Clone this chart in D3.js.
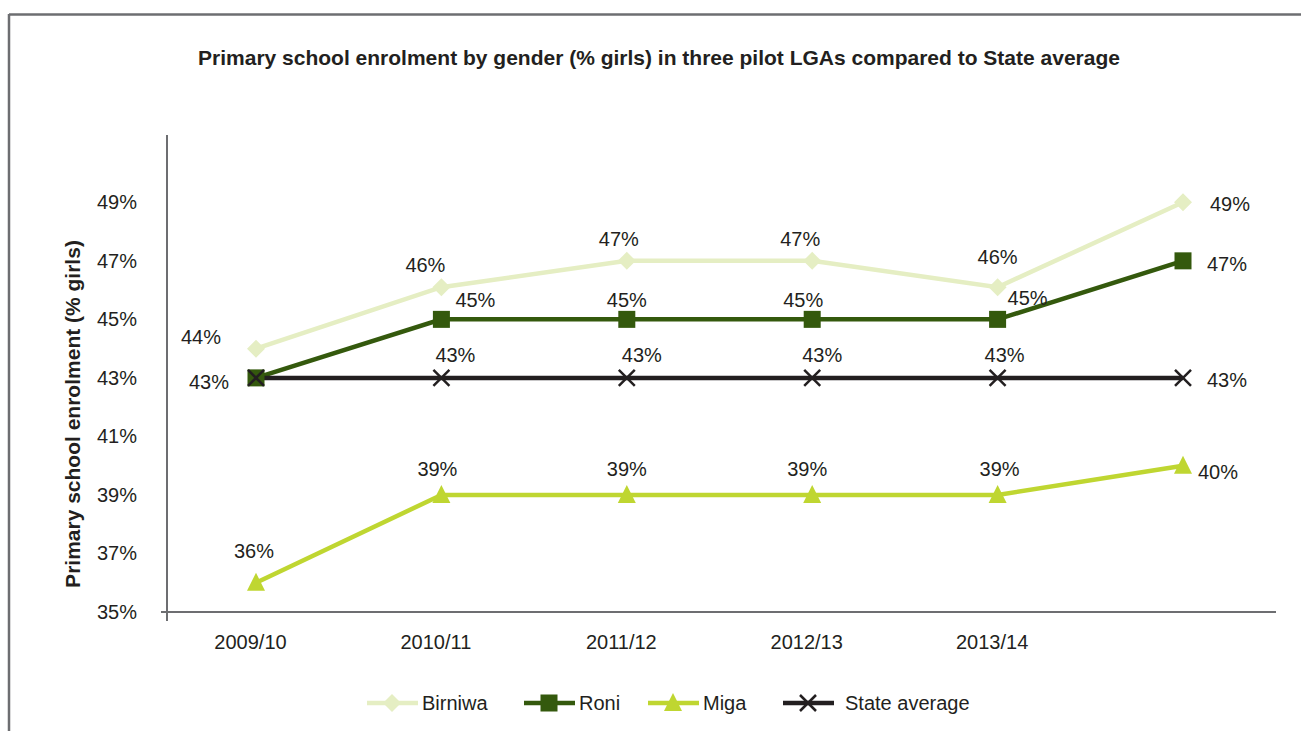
<!DOCTYPE html>
<html>
<head>
<meta charset="utf-8">
<script src="https://cdn.jsdelivr.net/npm/d3@7"></script>
<style>
  body { margin: 0; background: #fff; }
  svg { font-family: "Liberation Sans", Arial, Helvetica, sans-serif; }
</style>
</head>
<body>
<svg id="chart" width="1301" height="731"></svg>
<script>
// data
const categories = ['2009/10', '2010/11', '2011/12', '2012/13', '2013/14', ''];
const birniwa = [44, 46.1, 47, 47, 46.1, 49];
const roni = [43, 45, 45, 45, 45, 47];
const miga = [36, 39, 39, 39, 39, 40];
const stateAverage = [43, 43, 43, 43, 43, 43];
const yTicks = [35, 37, 39, 41, 43, 45, 47, 49];

const title = 'Primary school enrolment by gender (% girls) in three pilot LGAs compared to State average';
const yTitle = 'Primary school enrolment (% girls)';

// label offsets (dx, dy) from each point; null = no label
const series = [
  { name: 'Birniwa', values: birniwa, color: '#e5eec3', marker: 'diamond',
    offs: [[-55, -12], [-16, -22], [-8, -22], [-12, -22], [0, -30], [47, 2]] },
  { name: 'Roni', values: roni, color: '#34590d', marker: 'square',
    offs: [[-47, 4], [34, -19], [0, -19], [-9, -19], [30, -21], [44, 3]] },
  { name: 'Miga', values: miga, color: '#bfd631', marker: 'triangle',
    offs: [[-2, -32], [-4, -26], [0, -26], [-5, -26], [2, -26], [35, 6]] },
  { name: 'State average', values: stateAverage, color: '#231f20', marker: 'cross',
    offs: [null, [14, -23], [15, -23], [10, -23], [7, -23], [44, 2]] }
];

const textColor = '#231f20';
const axisColor = '#6d6e71';
const fontSize = 20;
const svg = d3.select('#chart');

// frame
svg.append('line').attr('x1', 9).attr('x2', 1301).attr('y1', 14.5).attr('y2', 14.5)
  .attr('stroke', axisColor).attr('stroke-width', 2.5);
svg.append('line').attr('x1', 9).attr('x2', 9).attr('y1', 14).attr('y2', 731)
  .attr('stroke', axisColor).attr('stroke-width', 2.5);

svg.append('text').attr('x', 659).attr('y', 65).attr('text-anchor', 'middle')
  .attr('font-size', 21).attr('font-weight', 'bold').attr('fill', textColor).text(title);

const x = d3.scalePoint().domain(d3.range(categories.length)).range([256, 1183]);
const y = d3.scaleLinear().domain([35, 51.3]).range([612, 135]);

// axes
svg.append('line').attr('x1', 161).attr('x2', 1276).attr('y1', y(35)).attr('y2', y(35))
  .attr('stroke', axisColor).attr('stroke-width', 2);
svg.append('line').attr('x1', 167).attr('x2', 167).attr('y1', y.range()[1]).attr('y2', 621)
  .attr('stroke', axisColor).attr('stroke-width', 2);

const gy = svg.append('g').attr('transform', 'translate(167,0)')
  .call(d3.axisLeft(y).tickValues(yTicks).tickSize(0).tickPadding(30).tickFormat(d => d + '%'));
gy.select('.domain').remove();
gy.selectAll('text').attr('font-size', fontSize).attr('fill', textColor).attr('font-family', null);

const gx = svg.append('g').attr('transform', `translate(0,${y(35)})`)
  .call(d3.axisBottom(x).tickSize(0).tickPadding(23).tickFormat(i => categories[i]));
gx.select('.domain').remove();
gx.selectAll('text').attr('font-size', fontSize).attr('fill', textColor).attr('font-family', null)
  .attr('dx', -6);

svg.append('text').attr('transform', 'translate(80,414) rotate(-90)').attr('text-anchor', 'middle')
  .attr('font-size', 21).attr('font-weight', 'bold').attr('fill', textColor).text(yTitle);

// markers
function drawMarker(g, type, color) {
  if (type === 'diamond') {
    g.append('path').attr('d', 'M0,-9L9,0L0,9L-9,0Z').attr('fill', color);
  } else if (type === 'square') {
    g.append('rect').attr('x', -8.5).attr('y', -8.5).attr('width', 17).attr('height', 17).attr('fill', color);
  } else if (type === 'triangle') {
    g.append('path').attr('d', 'M0,-10L9,8L-9,8Z').attr('fill', color);
  } else {
    g.append('path').attr('d', 'M-8,-8L8,8M-8,8L8,-8').attr('stroke', color)
      .attr('stroke-width', 2.5).attr('fill', 'none');
  }
}

const line = d3.line().x((d, i) => x(i)).y(d => y(d));

series.forEach(s => {
  svg.append('path').datum(s.values).attr('d', line).attr('fill', 'none')
    .attr('stroke', s.color).attr('stroke-width', 4.5);
});

series.forEach(s => {
  s.values.forEach((v, i) => {
    const g = svg.append('g').attr('transform', `translate(${x(i)},${y(v)})`);
    drawMarker(g, s.marker, s.color);
  });
});

// data labels
series.forEach(s => {
  s.values.forEach((v, i) => {
    const o = s.offs[i];
    if (!o) return;
    svg.append('text').attr('x', x(i) + o[0]).attr('y', y(v) + o[1]).attr('dy', '0.35em')
      .attr('text-anchor', 'middle').attr('font-size', fontSize).attr('fill', textColor)
      .text(Math.round(v) + '%');
  });
});

// legend
const legendX = [367, 524, 648, 783];
const legend = svg.append('g').attr('transform', 'translate(0,703)');
series.forEach((s, i) => {
  const g = legend.append('g').attr('transform', `translate(${legendX[i]},0)`);
  g.append('line').attr('x1', 0).attr('x2', 51).attr('stroke', s.color).attr('stroke-width', 4.5);
  drawMarker(g.append('g').attr('transform', 'translate(25,0)'), s.marker, s.color);
  g.append('text').attr('x', s.name === 'State average' ? 62 : 55).attr('dy', '0.35em')
    .attr('font-size', fontSize).attr('fill', textColor).text(s.name);
});
</script>
</body>
</html>
